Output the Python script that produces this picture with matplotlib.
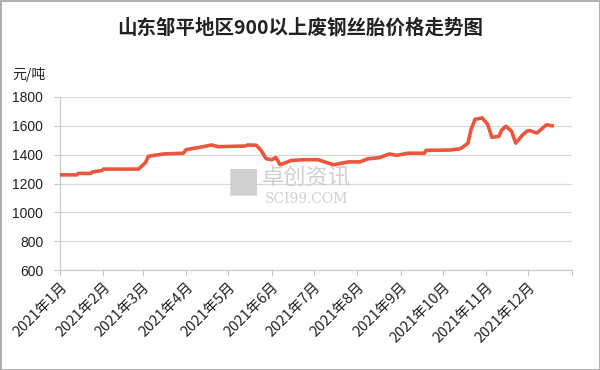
import matplotlib.pyplot as plt
import matplotlib.dates as mdates
import numpy as np
from datetime import date

plt.rcParams['font.family'] = ['Noto Sans CJK SC', 'DejaVu Sans']

# price readings (元/吨), 2021
dates = ["01-01", "01-13", "01-14", "01-23", "01-24", "01-31", "02-01", "02-26",
         "03-03", "03-05", "03-09", "03-16", "03-30", "04-01", "04-13", "04-19",
         "04-24", "05-13", "05-15", "05-21", "05-24", "05-28", "06-01", "06-04",
         "06-07", "06-11", "06-15", "06-24", "07-04", "07-15", "07-26", "08-03",
         "08-08", "08-17", "08-24", "08-29", "09-06", "09-18", "09-19", "10-06",
         "10-13", "10-15", "10-19", "10-21", "10-24", "10-27", "10-29", "11-02",
         "11-05", "11-10", "11-12", "11-15", "11-19", "11-22", "11-24", "11-27",
         "11-30", "12-02", "12-07", "12-14", "12-18"]
prices = [1260, 1260, 1270, 1270, 1280, 1290, 1300, 1300,
          1345, 1388, 1395, 1405, 1410, 1435, 1455, 1467,
          1455, 1460, 1467, 1465, 1434, 1372, 1365, 1380,
          1330, 1345, 1360, 1365, 1365, 1330, 1350, 1350,
          1370, 1380, 1405, 1395, 1410, 1410, 1430, 1432,
          1440, 1450, 1480, 1570, 1645, 1650, 1655, 1610,
          1520, 1527, 1570, 1597, 1563, 1480, 1503, 1538,
          1563, 1567, 1550, 1607, 1600]
x = [date(2021, int(d[:2]), int(d[3:])) for d in dates]

y_ticks = [600, 800, 1000, 1200, 1400, 1600, 1800]
month_ticks = [date(2021, m, 1) for m in range(1, 13)]
month_labels = ["2021年%d月" % m for m in range(1, 13)]

fig = plt.figure(figsize=(6, 3.7), dpi=100)
fig.patch.set_edgecolor('#b0b0b0')
fig.patch.set_linewidth(2)
ax = fig.add_axes([0.1, 0.27, 0.853, 0.468])

ax.plot(x, prices, color='#ee553d', linewidth=2.6, solid_joinstyle='round', zorder=3)

ax.set_ylim(600, 1800)
ax.set_yticks(y_ticks)
ax.set_yticklabels([str(v) for v in y_ticks], fontsize=10, family='Liberation Sans')
ax.set_xlim(date(2021, 1, 1), date(2022, 1, 1))
ax.set_xticks(month_ticks + [date(2022, 1, 1)])
ax.set_xticklabels(month_labels + [""], rotation=45, ha='right', va='top',
                   rotation_mode='anchor', fontsize=10.5)

ax.grid(axis='y', color='#d9d9d9', linewidth=0.9)
ax.set_axisbelow(True)
for s in ['top', 'right']:
    ax.spines[s].set_visible(False)
for s in ['left', 'bottom']:
    ax.spines[s].set_color('#c8c8c8')
ax.tick_params(axis='both', direction='out', length=4, color='#c8c8c8', colors='#222222')
ax.tick_params(axis='x', pad=3)
ax.tick_params(axis='y', pad=8)

fig.text(0.5, 0.925, "山东邹平地区900以上废钢丝胎价格走势图", ha='center', va='center',
         fontsize=14, fontweight='bold', color='#222222')
fig.text(0.02, 0.8, "元/吨", ha='left', va='center', fontsize=10, color='#222222')

# watermark
fig.text(0.405, 0.5, "■", ha='center', va='center', fontsize=24, color='#d0d0d0')
fig.text(0.51, 0.518, "卓创资讯", ha='center', va='center', fontsize=16, color='#d0d0d0')
fig.text(0.51, 0.462, "SCI99.COM", ha='center', va='center', fontsize=10,
         color='#d0d0d0', family='DejaVu Serif')

fig.savefig("out.png", dpi=100)
